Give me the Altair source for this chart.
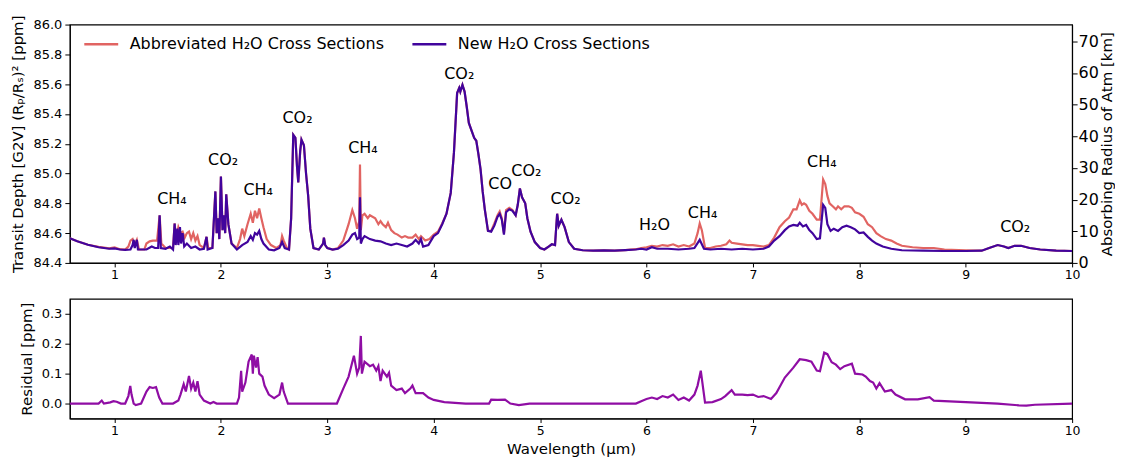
import altair as alt
import pandas as pd

# ---------------- data ----------------
new_wl = [0.58, 0.65, 0.75, 0.85, 0.95, 1.00, 1.05, 1.10, 1.15, 1.17, 1.18, 1.19, 1.21, 1.22, 1.30, 1.35, 1.38, 1.41,
          1.424, 1.435, 1.48, 1.52, 1.55, 1.565, 1.575, 1.59, 1.60, 1.615, 1.625, 1.64, 1.655, 1.68, 1.72, 1.76, 1.80,
          1.84, 1.865, 1.875, 1.92, 1.948, 1.96, 1.975, 1.985, 2.00, 2.015, 2.03, 2.04, 2.05, 2.07, 2.10, 2.15, 2.20,
          2.25, 2.28, 2.30, 2.32, 2.34, 2.36, 2.38, 2.40, 2.45, 2.50, 2.55, 2.575, 2.60, 2.64, 2.66, 2.68, 2.70, 2.715,
          2.727, 2.745, 2.757, 2.78, 2.80, 2.82, 2.84, 2.87, 2.92, 2.96, 2.968, 2.98, 3.00, 3.05, 3.10, 3.15, 3.20,
          3.235, 3.26, 3.28, 3.30, 3.307, 3.315, 3.33, 3.35, 3.40, 3.45, 3.50, 3.55, 3.60, 3.65, 3.70, 3.75, 3.80,
          3.83, 3.86, 3.88, 3.90, 3.95, 4.00, 4.04, 4.08, 4.12, 4.16, 4.19, 4.22, 4.24, 4.25, 4.27, 4.29, 4.31, 4.33,
          4.36, 4.38, 4.40, 4.42, 4.44, 4.46, 4.48, 4.51, 4.54, 4.57, 4.60, 4.62, 4.64, 4.66, 4.68, 4.71, 4.74, 4.77,
          4.79, 4.81, 4.83, 4.86, 4.88, 4.91, 4.95, 5.00, 5.04, 5.08, 5.11, 5.14, 5.16, 5.175, 5.20, 5.23, 5.27, 5.32,
          5.40, 5.50, 5.60, 5.70, 5.80, 5.90, 5.95, 6.00, 6.05, 6.10, 6.20, 6.30, 6.40, 6.45, 6.50, 6.54, 6.60, 6.70,
          6.80, 6.90, 7.00, 7.10, 7.15, 7.20, 7.25, 7.30, 7.34, 7.38, 7.42, 7.44, 7.47, 7.50, 7.53, 7.56, 7.60, 7.63,
          7.66, 7.68, 7.70, 7.73, 7.76, 7.80, 7.84, 7.88, 7.92, 7.96, 8.00, 8.04, 8.08, 8.12, 8.16, 8.22, 8.30, 8.40,
          8.60, 8.80, 9.00, 9.15, 9.22, 9.30, 9.36, 9.40, 9.46, 9.52, 9.60, 9.70, 9.85, 10.0]
new_val = [84.565, 84.545, 84.522, 84.505, 84.495, 84.497, 84.49, 84.488, 84.49, 84.52, 84.555, 84.50, 84.555, 84.49,
           84.49, 84.51, 84.50, 84.50, 84.72, 84.50, 84.495, 84.51, 84.49, 84.665, 84.52, 84.63, 84.52, 84.64, 84.53,
           84.60, 84.51, 84.53, 84.50, 84.51, 84.49, 84.495, 84.575, 84.49, 84.50, 84.88, 84.60, 84.70, 84.56, 84.98,
           84.62, 84.72, 84.60, 84.86, 84.66, 84.53, 84.49, 84.52, 84.54, 84.58, 84.555, 84.60, 84.59, 84.615, 84.56,
           84.53, 84.49, 84.485, 84.50, 84.54, 84.50, 84.49, 84.70, 85.26, 85.24, 85.05, 84.94, 85.15, 85.227, 85.19,
           85.00, 84.85, 84.63, 84.50, 84.49, 84.53, 84.57, 84.52, 84.50, 84.49, 84.495, 84.52, 84.55, 84.59, 84.60,
           84.56, 84.57, 84.84, 84.53, 84.56, 84.58, 84.56, 84.55, 84.545, 84.53, 84.52, 84.53, 84.52, 84.51, 84.53,
           84.555, 84.53, 84.56, 84.51, 84.52, 84.58, 84.60, 84.66, 84.73, 84.87, 85.14, 85.54, 85.575, 85.55, 85.595,
           85.55, 85.45, 85.34, 85.28, 85.24, 85.22, 85.13, 85.03, 84.88, 84.76, 84.615, 84.61, 84.65, 84.71, 84.73,
           84.69, 84.59, 84.74, 84.76, 84.75, 84.72, 84.79, 84.90, 84.84, 84.80, 84.70, 84.61, 84.54, 84.50, 84.49,
           84.51, 84.525, 84.52, 84.73, 84.65, 84.69, 84.64, 84.54, 84.495, 84.485, 84.482, 84.484, 84.482, 84.486,
           84.49, 84.495, 84.49, 84.505, 84.495, 84.495, 84.49, 84.495, 84.50, 84.555, 84.495, 84.49, 84.495, 84.49,
           84.495, 84.49, 84.495, 84.51, 84.55, 84.58, 84.62, 84.645, 84.655, 84.65, 84.67, 84.645, 84.655, 84.62,
           84.60, 84.56, 84.565, 84.79, 84.77, 84.66, 84.615, 84.63, 84.615, 84.64, 84.65, 84.64, 84.625, 84.60,
           84.605, 84.575, 84.55, 84.53, 84.51, 84.495, 84.485, 84.482, 84.48, 84.48, 84.482, 84.50, 84.52, 84.51,
           84.50, 84.515, 84.515, 84.50, 84.49, 84.482, 84.48]

abbr_wl = [0.58, 0.65, 0.75, 0.85, 0.95, 1.00, 1.05, 1.10, 1.13, 1.15, 1.17, 1.19, 1.21, 1.23, 1.28, 1.30, 1.33, 1.36,
           1.40, 1.424, 1.44, 1.48, 1.55, 1.565, 1.58, 1.60, 1.62, 1.64, 1.66, 1.68, 1.70, 1.72, 1.74, 1.76, 1.78, 1.80,
           1.84, 1.865, 1.88, 1.92, 1.948, 1.96, 1.975, 1.985, 2.00, 2.015, 2.03, 2.04, 2.05, 2.07, 2.10, 2.15, 2.18,
           2.20, 2.22, 2.25, 2.28, 2.30, 2.32, 2.34, 2.36, 2.38, 2.40, 2.43, 2.47, 2.52, 2.56, 2.575, 2.59, 2.62, 2.64,
           2.66, 2.68, 2.70, 2.715, 2.727, 2.745, 2.757, 2.78, 2.80, 2.82, 2.84, 2.87, 2.92, 2.96, 2.968, 2.98, 3.00,
           3.05, 3.10, 3.15, 3.20, 3.235, 3.26, 3.28, 3.30, 3.307, 3.315, 3.33, 3.35, 3.38, 3.40, 3.45, 3.48, 3.50,
           3.52, 3.55, 3.57, 3.60, 3.63, 3.66, 3.70, 3.73, 3.76, 3.80, 3.83, 3.86, 3.88, 3.92, 3.96, 4.00, 4.04, 4.08,
           4.12, 4.16, 4.19, 4.22, 4.24, 4.25, 4.27, 4.29, 4.31, 4.33, 4.36, 4.38, 4.40, 4.42, 4.44, 4.46, 4.48, 4.51,
           4.54, 4.57, 4.60, 4.62, 4.64, 4.66, 4.68, 4.71, 4.74, 4.77, 4.79, 4.81, 4.83, 4.86, 4.88, 4.91, 4.95, 5.00,
           5.04, 5.08, 5.11, 5.14, 5.16, 5.175, 5.20, 5.23, 5.27, 5.32, 5.40, 5.50, 5.60, 5.70, 5.80, 5.90, 5.95, 6.00,
           6.05, 6.10, 6.15, 6.20, 6.25, 6.30, 6.35, 6.40, 6.45, 6.48, 6.50, 6.52, 6.55, 6.60, 6.65, 6.70, 6.75, 6.78,
           6.80, 6.85, 6.90, 6.95, 7.00, 7.05, 7.10, 7.15, 7.20, 7.25, 7.30, 7.34, 7.38, 7.41, 7.44, 7.46, 7.48, 7.50,
           7.53, 7.56, 7.60, 7.63, 7.66, 7.68, 7.70, 7.72, 7.75, 7.78, 7.80, 7.83, 7.86, 7.90, 7.93, 7.96, 8.00, 8.04,
           8.08, 8.12, 8.16, 8.20, 8.25, 8.30, 8.35, 8.40, 8.50, 8.60, 8.70, 8.80, 9.00, 9.15, 9.22, 9.30, 9.36, 9.40,
           9.46, 9.52, 9.60, 9.70, 9.85, 10.0]
abbr_val = [84.565, 84.545, 84.522, 84.508, 84.498, 84.505, 84.492, 84.49, 84.51, 84.55, 84.56, 84.52, 84.555, 84.49,
            84.49, 84.53, 84.545, 84.55, 84.55, 84.72, 84.53, 84.50, 84.50, 84.665, 84.56, 84.64, 84.60, 84.61, 84.57,
            84.60, 84.61, 84.56, 84.60, 84.55, 84.58, 84.52, 84.50, 84.575, 84.50, 84.50, 84.88, 84.60, 84.70, 84.56,
            84.98, 84.62, 84.72, 84.60, 84.86, 84.66, 84.53, 84.50, 84.56, 84.63, 84.58, 84.66, 84.73, 84.67, 84.75,
            84.70, 84.765, 84.70, 84.64, 84.56, 84.52, 84.50, 84.52, 84.58, 84.55, 84.50, 84.49, 84.70, 85.26, 85.24,
            85.05, 84.94, 85.15, 85.227, 85.19, 85.00, 84.85, 84.63, 84.50, 84.49, 84.53, 84.57, 84.52, 84.50, 84.49,
            84.50, 84.55, 84.66, 84.755, 84.70, 84.63, 84.68, 85.06, 84.62, 84.72, 84.73, 84.70, 84.72, 84.70, 84.66,
            84.68, 84.66, 84.64, 84.67, 84.62, 84.60, 84.59, 84.57, 84.58, 84.57, 84.57, 84.59, 84.56, 84.58, 84.55,
            84.56, 84.59, 84.61, 84.665, 84.73, 84.87, 85.14, 85.54, 85.575, 85.55, 85.595, 85.55, 85.45, 85.34, 85.28,
            85.24, 85.22, 85.13, 85.03, 84.88, 84.76, 84.615, 84.615, 84.665, 84.72, 84.745, 84.70, 84.60, 84.755,
            84.77, 84.755, 84.72, 84.79, 84.90, 84.84, 84.80, 84.70, 84.61, 84.54, 84.50, 84.49, 84.51, 84.525, 84.52,
            84.73, 84.65, 84.69, 84.64, 84.54, 84.495, 84.485, 84.482, 84.484, 84.482, 84.486, 84.492, 84.50, 84.505,
            84.515, 84.51, 84.52, 84.515, 84.525, 84.51, 84.52, 84.51, 84.53, 84.60, 84.665, 84.62, 84.50, 84.50,
            84.51, 84.515, 84.525, 84.55, 84.535, 84.53, 84.525, 84.52, 84.52, 84.515, 84.51, 84.52, 84.57, 84.64,
            84.68, 84.705, 84.76, 84.76, 84.82, 84.79, 84.80, 84.79, 84.75, 84.73, 84.69, 84.69, 84.96, 84.93, 84.85,
            84.80, 84.78, 84.76, 84.78, 84.76, 84.78, 84.78, 84.77, 84.74, 84.73, 84.71, 84.66, 84.64, 84.60, 84.58,
            84.56, 84.55, 84.53, 84.515, 84.505, 84.50, 84.50, 84.49, 84.485, 84.482, 84.50, 84.52, 84.51, 84.50,
            84.515, 84.515, 84.50, 84.49, 84.482, 84.48]

res_wl = [0.58, 0.85, 0.88, 0.90, 0.96, 0.99, 1.02, 1.06, 1.10, 1.13, 1.148, 1.16, 1.18, 1.20, 1.25, 1.30, 1.33, 1.36,
          1.39, 1.42, 1.45, 1.55, 1.60, 1.62, 1.65, 1.67, 1.70, 1.72, 1.74, 1.76, 1.78, 1.80, 1.84, 1.90, 1.93, 1.96,
          2.15, 2.17, 2.19, 2.20, 2.23, 2.26, 2.29, 2.30, 2.31, 2.33, 2.345, 2.36, 2.39, 2.41, 2.45, 2.50, 2.55, 2.575,
          2.59, 2.63, 3.09, 3.15, 3.20, 3.25, 3.28, 3.30, 3.315, 3.325, 3.35, 3.40, 3.43, 3.46, 3.48, 3.50, 3.52, 3.56,
          3.58, 3.60, 3.65, 3.70, 3.73, 3.78, 3.80, 3.83, 3.90, 3.95, 4.00, 4.10, 4.30, 4.52, 4.54, 4.60, 4.67, 4.72,
          4.80, 4.90, 5.90, 5.95, 6.00, 6.05, 6.10, 6.15, 6.20, 6.25, 6.30, 6.35, 6.40, 6.45, 6.48, 6.51, 6.55, 6.62,
          6.70, 6.74, 6.80, 6.83, 6.90, 6.95, 7.00, 7.05, 7.10, 7.17, 7.22, 7.30, 7.38, 7.44, 7.50, 7.55, 7.60, 7.63,
          7.67, 7.70, 7.74, 7.78, 7.82, 7.86, 7.93, 7.96, 8.03, 8.06, 8.10, 8.13, 8.16, 8.19, 8.24, 8.30, 8.34, 8.43,
          8.55, 8.66, 8.70, 9.00, 9.30, 9.50, 9.57, 9.65, 10.0]
res_val = [0.0, 0.0, 0.01, 0.0, 0.004, 0.008, 0.006, 0.0, 0.0, 0.025, 0.059, 0.03, 0.0, -0.005, 0.0, 0.04, 0.055, 0.052,
           0.055, 0.02, 0.0, 0.0, 0.01, 0.03, 0.065, 0.04, 0.092, 0.05, 0.07, 0.04, 0.075, 0.03, 0.01, 0.0, 0.005, 0.0,
           0.0, 0.02, 0.109, 0.04, 0.07, 0.14, 0.164, 0.10, 0.16, 0.12, 0.155, 0.10, 0.09, 0.06, 0.03, 0.018, 0.03,
           0.07, 0.04, 0.0, 0.0, 0.05, 0.09, 0.16, 0.10, 0.12, 0.226, 0.10, 0.14, 0.125, 0.13, 0.11, 0.125, 0.075,
           0.11, 0.09, 0.103, 0.06, 0.045, 0.05, 0.035, 0.05, 0.06, 0.035, 0.035, 0.02, 0.012, 0.005, 0.0, 0.0, 0.013,
           0.012, 0.013, 0.0, -0.005, 0.0, 0.0, 0.008, 0.015, 0.02, 0.015, 0.025, 0.02, 0.03, 0.012, 0.02, 0.01, 0.03,
           0.06, 0.11, 0.003, 0.005, 0.015, 0.025, 0.045, 0.03, 0.03, 0.028, 0.03, 0.022, 0.025, 0.015, 0.035, 0.087,
           0.12, 0.148, 0.145, 0.14, 0.11, 0.108, 0.17, 0.165, 0.138, 0.13, 0.115, 0.125, 0.133, 0.10, 0.097, 0.09,
           0.075, 0.07, 0.05, 0.068, 0.04, 0.045, 0.03, 0.014, 0.014, 0.021, 0.01, 0.005, 0.0, -0.006, -0.007, -0.004,
           0.0]

label_text = ["CH₄", "CO₂", "CH₄", "CO₂", "CH₄", "CO₂", "CO", "CO₂", "CO₂", "H₂O", "CH₄", "CH₄", "CO₂"]
label_wl = [1.54, 2.02, 2.35, 2.72, 3.335, 4.24, 4.625, 4.87, 5.24, 6.075, 6.527, 7.648, 9.465]
label_ppm = [84.827, 85.093, 84.887, 85.373, 85.173, 85.667, 84.933, 85.02, 84.827, 84.653, 84.733, 85.08, 84.64]

series_names = ["Abbreviated H₂O Cross Sections", "New H₂O Cross Sections"]
series_colors = ["#e16462", "#41049d"]
residual_color = "#8f0da4"
km_ticks = [0, 10, 20, 30, 40, 50, 60, 70]
ppm_ticks = [84.4, 84.6, 84.8, 85.0, 85.2, 85.4, 85.6, 85.8, 86.0]
res_ticks = [0.0, 0.1, 0.2, 0.3]
x_ticks = [1, 2, 3, 4, 5, 6, 7, 8, 9, 10]

# ---------------- tables ----------------
df_abbr = pd.DataFrame({"wl": abbr_wl, "ppm": abbr_val, "series": series_names[0]})
df_new = pd.DataFrame({"wl": new_wl, "ppm": new_val, "series": series_names[1]})
df_res = pd.DataFrame({"wl": res_wl, "res": res_val})
df_lab = pd.DataFrame({"wl": label_wl, "ppm": label_ppm, "text": label_text})
df_km = pd.DataFrame({"km": km_ticks})

FONT = "DejaVu Sans"
W = 1005
xscale = alt.Scale(domain=[0.58, 10], nice=False, zero=False)
yscale = alt.Scale(domain=[84.4, 86.0], nice=False, zero=False)

color = alt.Color(
    "series:N",
    scale=alt.Scale(domain=series_names, range=series_colors),
    legend=alt.Legend(
        title=None, orient="none", legendX=13, legendY=1, direction="horizontal",
        symbolType="stroke", symbolSize=1156, symbolStrokeWidth=2.5,
        labelFontSize=16, labelFont=FONT, labelLimit=0, columnPadding=22, labelOffset=10,
    ),
)

x_top = alt.X("wl:Q", scale=xscale, axis=alt.Axis(values=x_ticks, format="d", title=None, labelFlush=False,
                                                  labelFontSize=12.5, tickSize=4, labelPadding=2, grid=False))
y_top = alt.Y("ppm:Q", scale=yscale,
              axis=alt.Axis(values=ppm_ticks, format=".1f", titlePadding=8,
                            title="Transit Depth [G2V] (Rₚ/Rₛ)² [ppm]", labelFontSize=13, grid=False))

red = alt.Chart(df_abbr).mark_line(strokeWidth=2.2, clip=True).encode(x=x_top, y=y_top, color=color)
purple = alt.Chart(df_new).mark_line(strokeWidth=2.2, clip=True).encode(x=x_top, y=y_top, color=color)
labels = alt.Chart(df_lab).mark_text(fontSize=16, font=FONT, color="black").encode(
    x=x_top, y=y_top, text="text:N")

main = alt.layer(red, purple, labels)
right = alt.Chart(df_km).mark_point(opacity=0).encode(
    x=alt.value(0),
    y=alt.Y("km:Q", scale=alt.Scale(domain=[0, 75.3], nice=False, zero=True),
            axis=alt.Axis(orient="right", values=km_ticks, title="Absorbing Radius of Atm [km]",
                          labelFontSize=16, labelPadding=1, titleAngle=270, titleBaseline="top",
                          titlePadding=1, grid=False)),
)
top = alt.layer(main, right).resolve_scale(y="independent").properties(width=W, height=239)

bottom = alt.Chart(df_res).mark_line(strokeWidth=2.2, color=residual_color, clip=True).encode(
    x=alt.X("wl:Q", scale=xscale, axis=alt.Axis(values=x_ticks, format="d", title="Wavelength (μm)",
                                                labelFlush=False, labelFontSize=12.5, tickSize=4,
                                                labelPadding=2, titlePadding=5, grid=False)),
    y=alt.Y("res:Q", scale=alt.Scale(domain=[-0.05, 0.35], nice=False, zero=False),
            axis=alt.Axis(values=res_ticks, format=".1f", title="Residual [ppm]", titlePadding=7,
                          labelFontSize=13, grid=False)),
).properties(width=W, height=120)

chart = alt.vconcat(top, bottom, spacing=15).configure(
    font=FONT,
    padding={"left": 1, "top": 5, "right": 0, "bottom": 0},
).configure_axis(
    labelFont=FONT, titleFont=FONT, titleFontSize=15, titleFontWeight="normal",
    labelColor="black", titleColor="black", tickColor="black", domainColor="black",
    tickSize=5, labelPadding=3,
).configure_view(stroke="black", strokeWidth=1.2)

chart.save("out.html", embed_options={"renderer": "svg", "actions": False})
